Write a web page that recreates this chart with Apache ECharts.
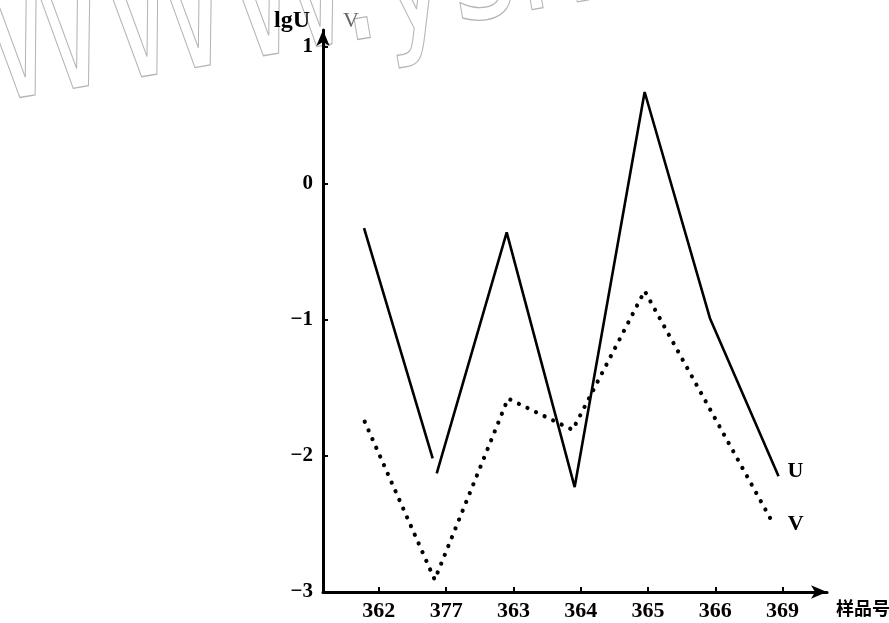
<!DOCTYPE html>
<html><head><meta charset="utf-8">
<script src="https://cdn.jsdelivr.net/npm/echarts@6/dist/echarts.min.js"></script>
<style>html,body{margin:0;padding:0;background:#fff}#c{width:889px;height:623px}</style>
</head><body><div id="c"></div>
<script>
// ---- data ----
const categories = ['362', '377', '363', '364', '365', '366', '369'];
const yTickValues = [-3, -2, -1, 0, 1];
// U (solid line): horizontal position in sample-index units (as drawn), and lgU
const uPos = [-0.22, 0.80, 0.86, 1.90, 2.91, 3.95, 4.92, 5.94];
const uVal = [-0.33, -2.02, -2.13, -0.36, -2.23, 0.67, -0.99, -2.15];
const uBreakAfter = 1; // the drawn line is interrupted after this point
// V (dotted line)
const vPos = [-0.21, 0.83, 1.92, 2.88, 3.95, 5.84];
const vVal = [-1.75, -2.91, -1.58, -1.81, -0.79, -2.48];

const serif = "'Liberation Serif', 'DejaVu Serif', serif";
const uData = [];
uPos.forEach((p, i) => {
  uData.push([p, uVal[i]]);
  if (i === uBreakAfter) uData.push([(p + uPos[i + 1]) / 2, '-']);
});
const vData = vPos.map((p, i) => [p, vVal[i]]);
const catIdx = categories.map((c, i) => i);

const chart = echarts.init(document.getElementById('c'), null, {renderer: 'canvas'});
chart.setOption({
  animation: false,
  backgroundColor: '#fff',
  grid: {left: 323, right: 62, top: 30, bottom: 31, containLabel: false, outerBoundsMode: 'none'},
  graphic: [{
    type: 'text', x: 0, y: 142, rotation: 0.17, scaleY: 1.35, z: -10, silent: true,
    style: {text: 'WWW.ysh', font: "125px 'Liberation Sans Narrow', 'DejaVu Sans', sans-serif",
      fill: 'rgba(0,0,0,0)', stroke: '#b5b5b5', lineWidth: 1, verticalAlign: 'bottom'}
  }],
  xAxis: {
    type: 'value', min: -0.83, max: 6.66,
    axisLine: {show: true, onZero: false, symbol: ['none', 'arrow'], symbolSize: [10, 16],
      lineStyle: {color: '#000', width: 3}},
    axisTick: {show: true, inside: true, length: 5, customValues: catIdx,
      lineStyle: {color: '#000', width: 2}},
    axisLabel: {customValues: catIdx, formatter: v => categories[Math.round(v)] || '',
      color: '#000', fontFamily: serif, fontWeight: 'bold', fontSize: 22, margin: 8},
    splitLine: {show: false},
    name: '样品号', nameLocation: 'end', nameGap: 9,
    nameTextStyle: {color: '#000', fontFamily: "'Noto Sans CJK SC', sans-serif", fontWeight: 'bold',
      fontSize: 18, verticalAlign: 'top', padding: [7, 0, 0, 0]}
  },
  yAxis: {
    type: 'value', min: -3, max: 1.125,
    axisLine: {show: true, onZero: false, symbol: ['none', 'arrow'], symbolSize: [10, 16],
      lineStyle: {color: '#000', width: 3}},
    axisTick: {show: true, inside: true, length: 5, customValues: [-2, -1, 0, 1],
      lineStyle: {color: '#000', width: 2}},
    axisLabel: {customValues: yTickValues, formatter: v => String(v).replace('-', '\u2212'),
      color: '#000', fontFamily: serif, fontWeight: 'bold', fontSize: 21, margin: 10,
      padding: [10, 0, 0, 0]},
    splitLine: {show: false},
    name: '{a|lgU}{g|}{b|V}', nameLocation: 'end', nameGap: -3,
    nameTextStyle: {padding: [0, 13, 0, 0],
      rich: {
        a: {color: '#000', fontFamily: serif, fontWeight: 'bold', fontSize: 24},
        g: {width: 33},
        b: {color: '#666', fontFamily: serif, fontSize: 22}
      }}
  },
  series: [{
    name: 'U', type: 'line', data: uData, symbol: 'none', connectNulls: false,
    lineStyle: {color: '#000', width: 2.6},
    endLabel: {show: true, formatter: 'U', distance: 9, color: '#000', fontFamily: serif,
      fontWeight: 'bold', fontSize: 22, offset: [0, -5]}
  }, {
    name: 'V', type: 'line', data: vData, symbol: 'none',
    lineStyle: {color: '#000', width: 4.2, type: [0.01, 9.5], cap: 'round'},
    endLabel: {show: true, formatter: 'V', distance: 16, color: '#000', fontFamily: serif,
      fontWeight: 'bold', fontSize: 22, offset: [0, 3]}
  }]
});
</script></body></html>
